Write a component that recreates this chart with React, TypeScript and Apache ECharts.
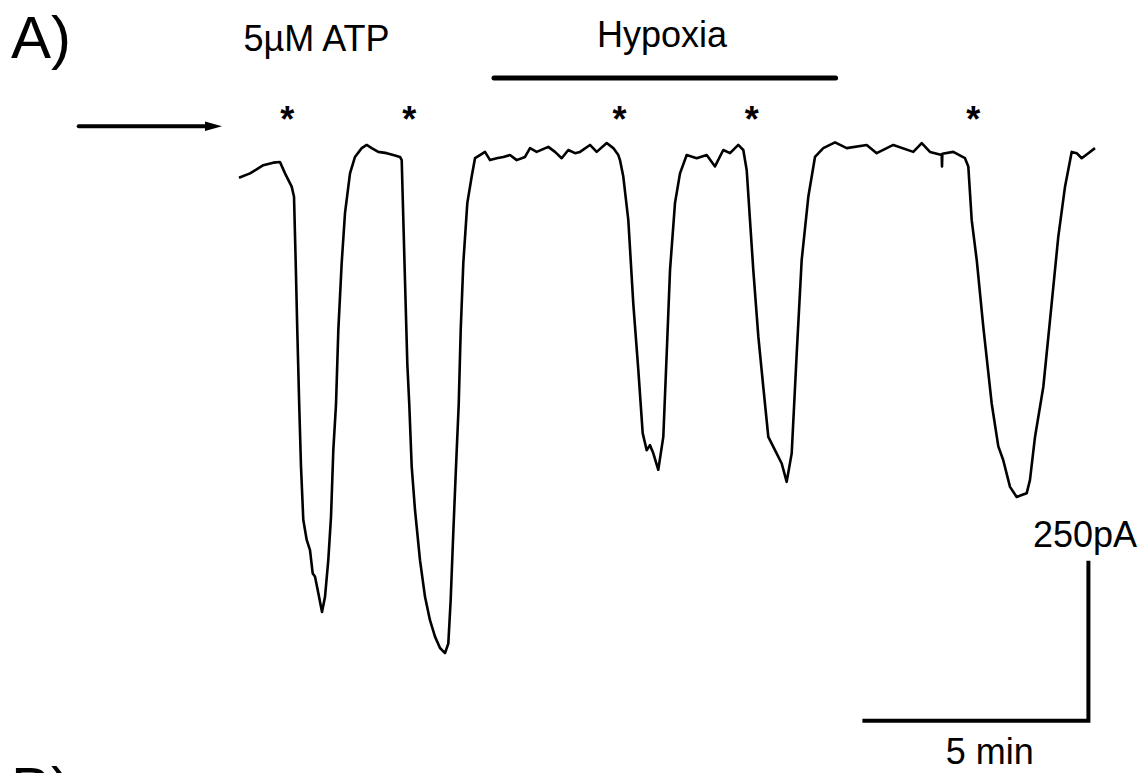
import React, { useEffect, useRef } from "react";
import * as echarts from "echarts";

// Time (min) of each sample of the recorded current trace
const traceTime: number[] = [
  0.0, 0.246, 0.542, 0.766, 0.915, 1.027, 1.176, 1.228, 1.266, 1.301, 1.344, 1.384, 1.435, 1.511, 1.585,
  1.645, 1.696, 1.77, 1.853, 1.92, 1.993, 2.054, 2.105, 2.165, 2.217, 2.292, 2.366, 2.478, 2.589, 2.739,
  2.85, 2.962, 3.109, 3.297, 3.444, 3.594, 3.632, 3.654, 3.705, 3.757, 3.801, 3.855, 3.929, 4.04, 4.152,
  4.263, 4.375, 4.487, 4.598, 4.672, 4.725, 4.783, 4.844, 4.904, 4.949, 5.007, 5.096, 5.194, 5.268, 5.379,
  5.491, 5.603, 5.752, 5.9, 6.049, 6.199, 6.384, 6.496, 6.645, 6.904, 7.054, 7.203, 7.35, 7.5, 7.612,
  7.835, 7.984, 8.208, 8.355, 8.467, 8.504, 8.578, 8.69, 8.801, 8.913, 9.011, 9.1, 9.174, 9.248, 9.359,
  9.471, 9.547, 9.621, 9.732, 9.844, 9.993, 10.217, 10.44, 10.625, 10.81, 10.96, 11.145, 11.257, 11.333,
  11.406, 11.48, 11.592, 11.703, 11.815, 11.964, 12.114, 12.225, 12.337, 12.449, 12.56, 12.708, 12.857,
  13.042, 13.304, 13.565, 14.011, 14.234, 14.605, 15.051, 15.239, 15.424, 15.685, 15.692, 15.7, 15.944,
  16.205, 16.279, 16.355, 16.467, 16.614, 16.801, 16.949, 17.06, 17.21, 17.359, 17.471, 17.583, 17.656,
  17.768, 17.953, 18.103, 18.288, 18.438, 18.587, 18.699, 18.81, 18.958, 19.107,
];

// Current (pA) of each sample, relative to the baseline
const traceCurrent: number[] = [
  -44, -37, -24, -20, -19, -37, -58, -74, -179, -285, -403, -501, -585, -617, -633,
  -670, -675, -701, -731, -707, -649, -580, -475, -403, -285, -179, -100, -37, -11, 3,
  8, 3, -3, -5, -8, -11, -16, -74, -206, -338, -403, -501, -570, -649, -707,
  -744, -770, -788, -796, -781, -712, -606, -501, -403, -285, -179, -84, -42, -13, -8,
  -3, -16, -13, -11, -8, -16, -11, 3, -3, 5, -3, -13, 0, -5, -3,
  8, -3, 11, 3, -8, -16, -42, -111, -243, -348, -448, -475, -467, -480, -506,
  -454, -322, -190, -84, -37, -8, -13, -8, -26, 0, -5, 8, 0, -32,
  -111, -190, -295, -375, -454, -475, -496, -525, -480, -322, -174, -74, -11,
  3, 12, 3, 8, -5, 8, -3, 11, -3, -8, -26, -6, -3,
  -13, -26, -111, -174, -280, -401, -469, -491, -533, -549, -546, -543, -522,
  -454, -375, -269, -137, -58, -3, -5, -13, -5, 3,
];

// ATP applications (min), marked with asterisks
const atpTimes: number[] = [1.078, 3.801, 8.493, 11.444, 16.39];
const starLevel = 49; // pA

// Hypoxia period (min)
const hypoxiaStart = 5.692;
const hypoxiaEnd = 13.317;
const hypoxiaLevel = 114; // pA

// Scale bar
const scaleBarTime = 5; // min
const scaleBarCurrent = 250; // pA
const scaleBarEndTime = 18.96;
const scaleBarBase = -903;

const FONT = "'Liberation Sans', Arial, Helvetica, sans-serif";

export default function App() {
  const ref = useRef<HTMLDivElement>(null);

  useEffect(() => {
    if (!ref.current) return;
    const chart = echarts.init(ref.current, null, { renderer: "svg" });

    const trace = traceTime.map((t, i) => [t, traceCurrent[i]]);
    const stars = atpTimes.map((t) => [t, starLevel]);
    const scaleBar = [
      [scaleBarEndTime - scaleBarTime, scaleBarBase],
      [scaleBarEndTime, scaleBarBase],
      [scaleBarEndTime, scaleBarBase + scaleBarCurrent],
    ];

    chart.setOption({
      animation: false,
      backgroundColor: "#ffffff",
      grid: { left: 239, top: 23.6, width: 896, height: 726.8, outerBoundsMode: "none" },
      xAxis: { type: "value", min: 0, max: 20, show: false },
      yAxis: { type: "value", min: -950, max: 200, show: false },
      series: [
        {
          type: "line",
          data: trace,
          symbol: "none",
          clip: false,
          lineStyle: { color: "#000", width: 2.6, join: "round" },
          silent: true,
        },
        {
          type: "line",
          data: [
            [hypoxiaStart, hypoxiaLevel],
            [hypoxiaEnd, hypoxiaLevel],
          ],
          symbol: "none",
          clip: false,
          lineStyle: { color: "#000", width: 5, cap: "round" },
          silent: true,
        },
        {
          type: "line",
          data: scaleBar,
          symbol: "none",
          clip: false,
          lineStyle: { color: "#000", width: 4, cap: "square", join: "miter" },
          silent: true,
        },
        {
          type: "scatter",
          data: stars,
          symbol: "circle",
          symbolSize: 0.1,
          clip: false,
          itemStyle: { color: "#000", opacity: 1 },
          label: {
            show: true,
            position: "inside",
            formatter: "*",
            color: "#000",
            opacity: 1,
            textBorderWidth: 0,
            fontSize: 36,
            fontWeight: "bold",
            fontFamily: FONT,
          },
          silent: true,
        },
      ],
      graphic: [
        {
          type: "text",
          style: { text: "A)", x: 11, y: 37, font: `60px ${FONT}`, fill: "#000", verticalAlign: "middle" },
        },
        {
          type: "text",
          style: { text: "B)", x: 11, y: 788, font: `60px ${FONT}`, fill: "#000", verticalAlign: "middle" },
        },
        {
          type: "text",
          style: { text: "5µM ATP", x: 243.5, y: 38.5, font: `36px ${FONT}`, fill: "#000", verticalAlign: "middle" },
        },
        {
          type: "text",
          style: { text: "Hypoxia", x: 662, y: 34.5, font: `36px ${FONT}`, fill: "#000", align: "center", verticalAlign: "middle" },
        },
        {
          type: "text",
          style: { text: "250pA", x: 1085, y: 534.2, font: `36px ${FONT}`, fill: "#000", align: "center", verticalAlign: "middle" },
        },
        {
          type: "text",
          style: { text: "5 min", x: 989.7, y: 751.5, font: `36px ${FONT}`, fill: "#000", align: "center", verticalAlign: "middle" },
        },
        {
          type: "line",
          shape: { x1: 78.7, y1: 126.2, x2: 208, y2: 126.2 },
          style: { stroke: "#000", lineWidth: 4, lineCap: "round" },
        },
        {
          type: "polygon",
          shape: { points: [[205, 121.5], [222, 126.2], [205, 131]] },
          style: { fill: "#000" },
        },
      ],
    });

    return () => chart.dispose();
  }, []);

  return (
    <div
      ref={ref}
      style={{ position: "fixed", left: 0, top: 0, width: 1143, height: 773, background: "#fff" }}
    />
  );
}
